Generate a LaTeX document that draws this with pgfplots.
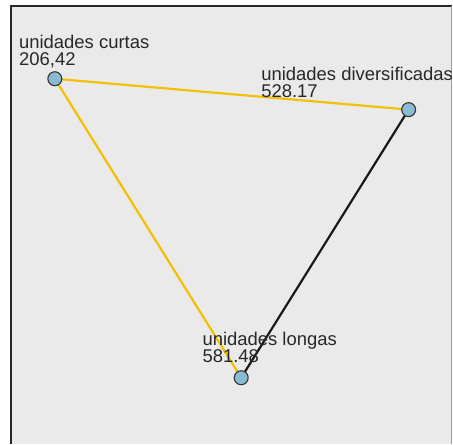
\documentclass[border=0pt]{standalone}
\usepackage{pgfplots}
\pgfplotsset{compat=1.18}
\usepackage{fontspec}
\setmainfont{Liberation Sans}
\definecolor{bg}{RGB}{234,234,234}
\definecolor{ylw}{RGB}{242,192,0}
\definecolor{mk}{RGB}{138,186,212}
\definecolor{txt}{RGB}{40,40,40}
\begin{document}
\begin{tikzpicture}
\begin{axis}[
  scale only axis,
  width=442.5bp, height=439.5bp,
  xmin=10.5, xmax=453, ymin=5.5, ymax=445,
  y dir=reverse,
  axis line style={draw=none},
  ticks=none,
  clip=false,
  axis background/.style={fill=bg},
]
\addplot[ylw, line width=2.2bp] coordinates {(55,79) (410,110)};
\addplot[ylw, line width=2.2bp] coordinates {(55,79) (242,379)};
\addplot[black!90, line width=2.2bp] coordinates {(242,379) (410,110)};
\addplot[only marks, mark=*, mark size=7bp, mark options={fill=mk, draw=black!80, line width=1.1bp}]
  coordinates {(55,79) (410,110) (242,379)};
\draw[black!85, line width=2bp] (axis cs:11.5,445) -- (axis cs:11.5,6.5) -- (axis cs:453,6.5);
\draw[black!40, line width=1bp] (axis cs:452.5,6.5) -- (axis cs:452.5,445);
\path (axis cs:0,0);
\begin{scope}[every node/.style={anchor=base west, inner sep=0pt, text=txt, font=\fontsize{18.5bp}{18bp}\selectfont}]
\node at (axis cs:19,49) {unidades curtas};
\node at (axis cs:19,66) {206,42};
\node at (axis cs:262,81) {unidades diversificadas};
\node at (axis cs:262,98) {528.17};
\node at (axis cs:203,347) {unidades longas};
\node at (axis cs:203,364) {581.48};
\end{scope}
\end{axis}
\end{tikzpicture}
\end{document}
